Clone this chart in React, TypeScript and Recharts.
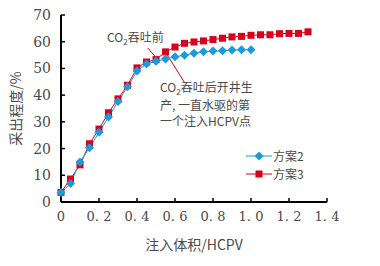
import { LineChart, Line, XAxis, YAxis, ReferenceLine } from "recharts";

// injection volume, HCPV (step 0.05)
const injection = [
  0, 0.05, 0.1, 0.15, 0.2, 0.25, 0.3, 0.35, 0.4, 0.45, 0.5, 0.55, 0.6, 0.65,
  0.7, 0.75, 0.8, 0.85, 0.9, 0.95, 1.0, 1.05, 1.1, 1.15, 1.2, 1.25, 1.3,
];

// recovery degree, %
const plan2 = [
  3.6, 6.9, 15.0, 20.3, 26.1, 31.8, 37.6, 43.1, 49.0, 51.7, 52.7, 53.5, 54.4,
  54.9, 55.7, 56.2, 56.5, 56.6, 56.9, 57.0, 57.0,
];
const plan3 = [
  3.6, 8.6, 13.9, 21.8, 27.3, 33.4, 38.6, 43.7, 50.2, 52.4, 53.3, 56.2, 58.0,
  59.4, 59.9, 60.3, 60.8, 61.3, 61.8, 62.0, 62.4, 62.6, 62.6, 63.0, 63.1, 63.1,
  63.7,
];

const xTicks = [0, 0.2, 0.4, 0.6, 0.8, 1.0, 1.2, 1.4];
const yTicks = [0, 10, 20, 30, 40, 50, 60, 70];

const seriesNames = ["方案2", "方案3"];

const BLUE = "#1a9be0";
const RED = "#d9001b";
const TEXT = "#4a4a4a";
const SERIF = "'DejaVu Serif', 'Liberation Serif', 'Noto Sans CJK SC', serif";
const CJK = "'Noto Sans CJK SC', 'DejaVu Serif', serif";

const data = injection.map((x, i) => ({
  x,
  plan2: i < plan2.length ? plan2[i] : undefined,
  plan3: plan3[i],
}));

const Diamond = (props: any) => {
  const { cx, cy, index } = props;
  if (cx == null || cy == null) return <g key={`d-${index}`} />;
  const r = 4.5;
  return (
    <path
      key={`d-${index}`}
      d={`M${cx},${cy - r}L${cx + r},${cy}L${cx},${cy + r}L${cx - r},${cy}Z`}
      fill={BLUE}
    />
  );
};

const Square = (props: any) => {
  const { cx, cy, index } = props;
  if (cx == null || cy == null) return <g key={`s-${index}`} />;
  const s = 7;
  return <rect key={`s-${index}`} x={cx - s / 2} y={cy - s / 2} width={s} height={s} fill={RED} />;
};

const fmtX = (v: number) => (v === 0 ? "0" : v.toFixed(1).replace(".", ". "));

const Sub2 = () => (
  <span style={{ fontSize: 8, position: "relative", top: 3 }}>2</span>
);

export default function App() {
  return (
    <div style={{ position: "absolute", left: 0, top: 0, width: 380, height: 266, background: "#fff" }}>
      <LineChart
        width={380}
        height={266}
        data={data}
        margin={{ top: 15, right: 53, bottom: 0, left: 0 }}
      >
        <XAxis
          dataKey="x"
          type="number"
          domain={[0, 1.4]}
          ticks={xTicks}
          tickFormatter={fmtX}
          height={64}
          axisLine={{ stroke: "#000", strokeWidth: 2 }}
          tickLine={{ stroke: "#000", strokeWidth: 1.5 }}
          tickSize={-4}
          tickMargin={14}
          tick={{ fill: TEXT, fontSize: 13, fontFamily: SERIF }}
          label={{
            value: "注入体积/HCPV",
            position: "insideBottom",
            offset: 16,
            fill: TEXT,
            fontSize: 14,
            fontFamily: CJK,
          }}
        />
        <YAxis
          type="number"
          domain={[0, 70]}
          ticks={yTicks}
          width={61}
          axisLine={{ stroke: "#000", strokeWidth: 2 }}
          tickLine={{ stroke: "#000", strokeWidth: 1.5 }}
          tickSize={-4}
          tickMargin={14}
          tick={{ fill: TEXT, fontSize: 14, fontFamily: SERIF }}
          label={{
            value: "采出程度/%",
            angle: -90,
            position: "insideLeft",
            offset: 16,
            fill: TEXT,
            fontSize: 14,
            fontFamily: CJK,
            style: { textAnchor: "middle" },
          }}
        />
        <ReferenceLine
          segment={[{ x: 0.456, y: 57.7 }, { x: 0.515, y: 52.9 }]}
          stroke={RED}
          strokeWidth={1}
        />
        <ReferenceLine
          segment={[{ x: 0.556, y: 55.4 }, { x: 0.653, y: 44.4 }]}
          stroke={RED}
          strokeWidth={1}
        />
        <Line
          dataKey="plan3"
          name={seriesNames[1]}
          stroke={RED}
          strokeWidth={1}
          dot={Square}
          isAnimationActive={false}
        />
        <Line
          dataKey="plan2"
          name={seriesNames[0]}
          stroke={BLUE}
          strokeWidth={1}
          dot={Diamond}
          isAnimationActive={false}
        />
      </LineChart>

      <div
        style={{
          position: "absolute",
          left: 107,
          top: 29,
          fontFamily: CJK,
          fontSize: 12,
          lineHeight: "15px",
          color: TEXT,
          whiteSpace: "nowrap",
        }}
      >
        CO<Sub2 />吞吐前
      </div>
      <div
        style={{
          position: "absolute",
          left: 160,
          top: 79,
          fontFamily: CJK,
          fontSize: 12,
          lineHeight: "16px",
          color: TEXT,
          whiteSpace: "nowrap",
        }}
      >
        CO<Sub2 />吞吐后开井生
        <br />
        产, 一直水驱的第
        <br />
        一个注入HCPV点
      </div>

      <svg style={{ position: "absolute", left: 240, top: 146 }} width={90} height={40}>
        {[BLUE, RED].map((c, i) => {
          const y = 10 + i * 18;
          return (
            <g key={c}>
              <line x1={6} x2={32} y1={y} y2={y} stroke={c} strokeWidth={1} />
              {i === 0 ? (
                <path d={`M19,${y - 4.5}L23.5,${y}L19,${y + 4.5}L14.5,${y}Z`} fill={c} />
              ) : (
                <rect x={15.5} y={y - 3.5} width={7} height={7} fill={c} />
              )}
              <text x={33} y={y + 4.5} fontSize={12} fontFamily={CJK} fill={TEXT}>
                {seriesNames[i]}
              </text>
            </g>
          );
        })}
      </svg>
    </div>
  );
}
